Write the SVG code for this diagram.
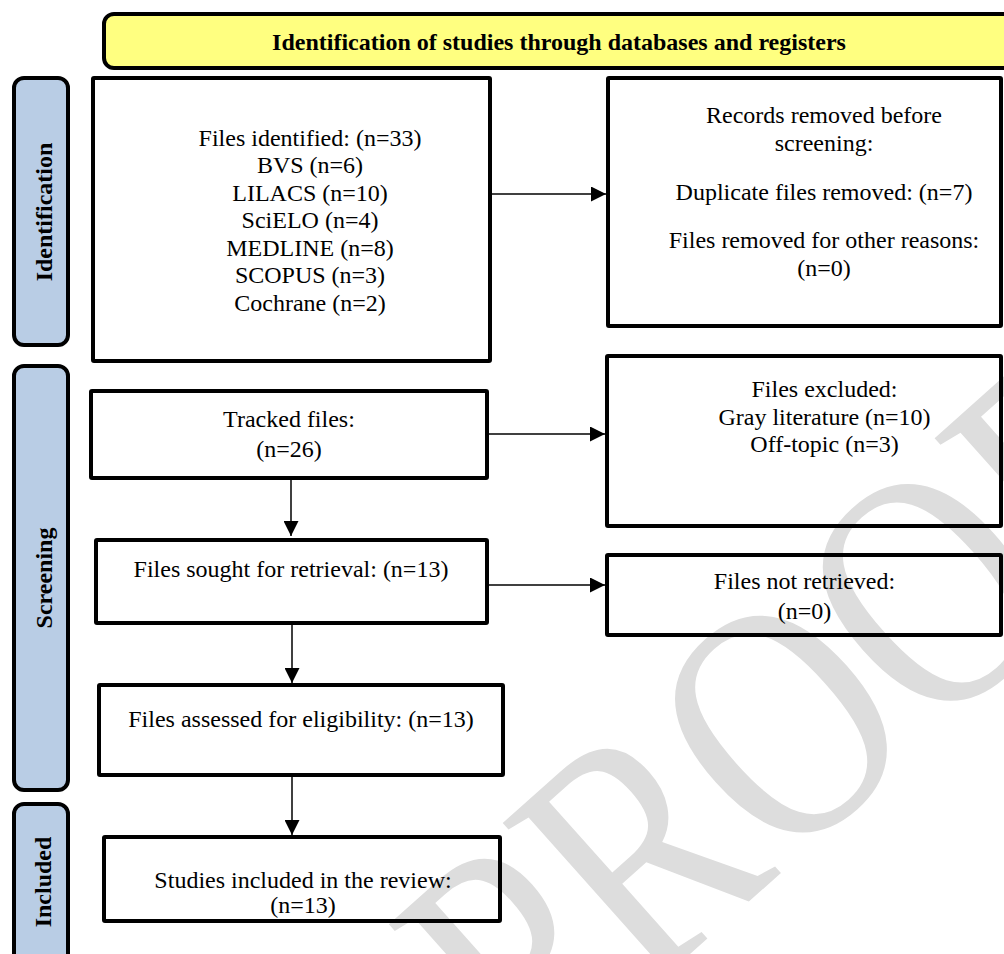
<svg xmlns="http://www.w3.org/2000/svg" width="1004" height="954" viewBox="0 0 1004 954">
<style>
.box{fill:none;stroke:#000;stroke-width:4}
.lab{fill:#b9cde5;stroke:#000;stroke-width:4}
.t{font-family:"Liberation Serif","Times New Roman",serif;font-size:24px;fill:#000;text-anchor:middle}
.b{font-weight:bold}
.con{stroke:#000;stroke-width:1.5;fill:none;marker-end:url(#ah)}
</style>
<defs>
<marker id="ah" markerUnits="userSpaceOnUse" markerWidth="15" markerHeight="15" refX="15" refY="7.5" orient="auto">
<path d="M0,0 L15,7.5 L0,15 z" fill="#000"/>
</marker>
</defs>
<rect width="1004" height="954" fill="#fff"/>
<text id="watermark" x="0" y="0" transform="translate(531 1095.7) rotate(-41.7) scale(1 1.24)" font-family="Liberation Serif, serif" font-size="274" fill="#dddddd">PROOF</text>

<g id="banner">
<rect x="104" y="14" width="920" height="54" rx="10" fill="#ffff80" stroke="#000" stroke-width="4"/>
<text class="t b" x="559" y="50">Identification of studies through databases and registers</text>
</g>

<g id="lab-identification">
<rect class="lab" x="14" y="78" width="54" height="267" rx="10"/>
<text class="t b" x="52" y="212" transform="rotate(-90 52 212)">Identification</text>
</g>
<g id="lab-screening">
<rect class="lab" x="14" y="366" width="54" height="424" rx="10"/>
<text class="t b" x="52" y="578" transform="rotate(-90 52 578)">Screening</text>
</g>
<g id="lab-included">
<rect class="lab" x="14" y="804" width="54" height="175" rx="10"/>
<text class="t b" x="51" y="882" transform="rotate(-90 51 882)">Included</text>
</g>

<g id="identified">
<rect class="box" x="93" y="78" width="397" height="283" rx="1"/>
<text class="t" x="310" y="145.5">Files identified: (n=33)</text>
<text class="t" x="310" y="173">BVS (n=6)</text>
<text class="t" x="310" y="200.5">LILACS (n=10)</text>
<text class="t" x="310" y="228">SciELO (n=4)</text>
<text class="t" x="310" y="255.5">MEDLINE (n=8)</text>
<text class="t" x="310" y="283">SCOPUS (n=3)</text>
<text class="t" x="310" y="310.5">Cochrane (n=2)</text>
</g>
<g id="removed">
<rect class="box" x="608" y="78" width="393" height="248" rx="1"/>
<text class="t" x="824" y="123">Records removed before</text>
<text class="t" x="824" y="151">screening:</text>
<text class="t" x="824" y="200">Duplicate files removed: (n=7)</text>
<text class="t" x="824" y="248">Files removed for other reasons:</text>
<text class="t" x="824" y="276">(n=0)</text>
</g>
<g id="tracked">
<rect class="box" x="91" y="391" width="396" height="87" rx="1"/>
<text class="t" x="289" y="427">Tracked files:</text>
<text class="t" x="289" y="457">(n=26)</text>
</g>
<g id="excluded">
<rect class="box" x="607" y="356" width="394" height="170" rx="1"/>
<text class="t" x="824.5" y="397">Files excluded:</text>
<text class="t" x="824.5" y="424.5">Gray literature (n=10)</text>
<text class="t" x="824.5" y="452">Off-topic (n=3)</text>
</g>
<g id="sought">
<rect class="box" x="96" y="540" width="391" height="83" rx="1"/>
<text class="t" x="291" y="577">Files sought for retrieval: (n=13)</text>
</g>
<g id="notretrieved">
<rect class="box" x="607" y="555" width="394" height="80" rx="1"/>
<text class="t" x="804.5" y="589">Files not retrieved:</text>
<text class="t" x="804.5" y="619">(n=0)</text>
</g>
<g id="eligibility">
<rect class="box" x="99" y="685" width="404" height="90" rx="1"/>
<text class="t" x="301" y="727">Files assessed for eligibility: (n=13)</text>
</g>
<g id="included">
<rect class="box" x="104" y="837" width="396" height="84" rx="1"/>
<text class="t" x="303" y="888">Studies included in the review:</text>
<text class="t" x="303" y="913">(n=13)</text>
</g>

<g id="connectors">
<line class="con" x1="492" y1="194" x2="606" y2="194"/>
<line class="con" x1="489" y1="434" x2="605" y2="434"/>
<line class="con" x1="489" y1="585" x2="605" y2="585"/>
<line class="con" x1="291" y1="480" x2="291" y2="536"/>
<line class="con" x1="292" y1="625" x2="292" y2="683"/>
<line class="con" x1="292" y1="777" x2="292" y2="835"/>
</g>
</svg>
